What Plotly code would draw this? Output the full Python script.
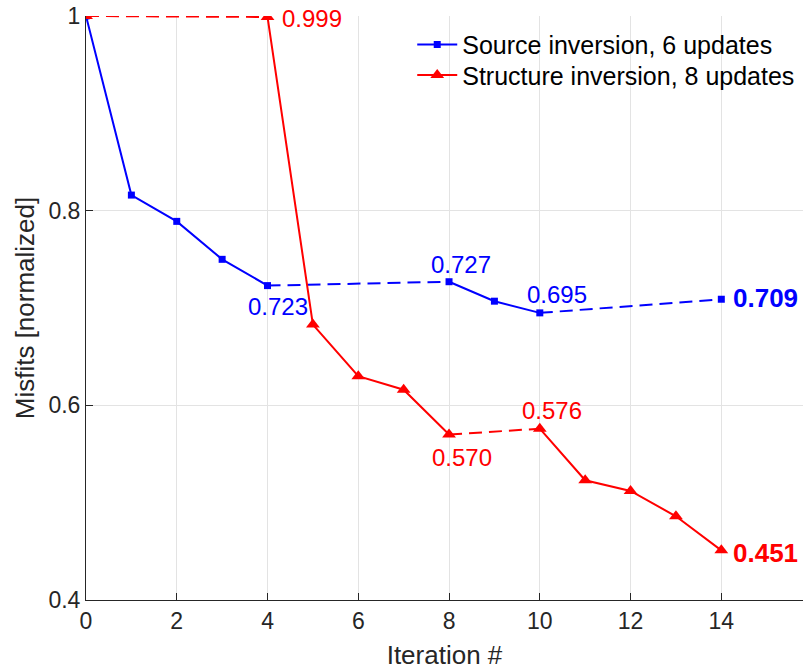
import plotly.graph_objects as go

# Normalized misfit per iteration
iterations = list(range(15))
source_misfit = [1.0, 0.816, 0.789, 0.750, 0.723, None, None, None,
                 0.727, 0.707, 0.695, None, None, None, 0.709]
structure_misfit = [1.0, None, None, None, 0.999, 0.683, 0.630, 0.616,
                    0.570, None, 0.576, 0.523, 0.512, 0.486, 0.451]

# Segments drawn dashed (between inversion stages)
source_dashed = [(4, 8), (10, 14)]
structure_dashed = [(0, 4), (8, 10)]

BLUE = "#0000ff"
RED = "#ff0000"
INK = "#262626"
FONT = "Liberation Sans, Arial, sans-serif"


def solid_series(values, dashed):
    """Break the line wherever a dashed gap connects two points."""
    xs, ys = [], []
    for i, v in zip(iterations, values):
        if v is None:
            continue
        if xs and any(a == xs[-1] and b == i for a, b in dashed):
            xs.append(None)
            ys.append(None)
        xs.append(i)
        ys.append(v)
    return xs, ys


def dashed_series(values, dashed):
    xs, ys = [], []
    for a, b in dashed:
        xs += [a, b, None]
        ys += [values[a], values[b], None]
    return xs, ys


fig = go.Figure()

for values, dashed, color, name, marker, legend in [
    (source_misfit, source_dashed, BLUE, "Source inversion, 6 updates",
     dict(symbol="square", size=7), "legend"),
    (structure_misfit, structure_dashed, RED, "Structure inversion, 8 updates",
     dict(symbol="triangle-up", size=12), "legend2"),
]:
    dx, dy = dashed_series(values, dashed)
    fig.add_trace(go.Scatter(
        x=dx, y=dy, mode="lines", showlegend=False, hoverinfo="skip",
        line=dict(color=color, width=2, dash="13px,7px"),
    ))
    sx, sy = solid_series(values, dashed)
    fig.add_trace(go.Scatter(
        x=sx, y=sy, mode="lines+markers", name=name, legend=legend,
        line=dict(color=color, width=2),
        marker=dict(color=color, **marker),
        connectgaps=False,
    ))

# Value labels: (iteration, series, color, xanchor, xshift, yshift, bold)
labels = [
    (4, structure_misfit, RED, "left", 13, -2, False),
    (4, source_misfit, BLUE, "center", 10, -21, False),
    (8, source_misfit, BLUE, "center", 12, 17.5, False),
    (10, source_misfit, BLUE, "center", 17, 18, False),
    (14, source_misfit, BLUE, "left", 11, 1.5, True),
    (8, structure_misfit, RED, "center", 13, -22.5, False),
    (10, structure_misfit, RED, "center", 12, 18, False),
    (14, structure_misfit, RED, "left", 11, -3, True),
]
for i, series, color, xa, xs, ys, bold in labels:
    v = series[i]
    txt = f"{v:.3f}"
    fig.add_annotation(
        x=i, y=v, text=f"<b>{txt}</b>" if bold else txt, showarrow=False,
        xanchor=xa, yanchor="middle", xshift=xs, yshift=ys, borderpad=0,
        font=dict(family=FONT, size=26 if bold else 24, color=color),
    )

legend_style = dict(xanchor="left", yanchor="top", bgcolor="rgba(255,255,255,0)",
                    font=dict(size=25, color="black"), itemwidth=40)

fig.update_layout(
    width=803, height=670,
    margin=dict(l=86, r=0, t=16, b=70),
    paper_bgcolor="white", plot_bgcolor="white",
    font=dict(family=FONT, color=INK),
    legend=dict(x=0.455, y=0.99, **legend_style),
    legend2=dict(x=0.455, y=0.938, **legend_style),
)
fig.update_xaxes(
    range=[0, 15.8], tickvals=list(range(0, 16, 2)),
    showgrid=True, gridcolor="#e3e3e3", gridwidth=1,
    showline=True, linecolor=INK, linewidth=1,
    ticks="inside", ticklen=7, tickcolor=INK,
    tickfont=dict(size=23, color=INK), zeroline=False,
    title=dict(text="Iteration #", font=dict(size=26, color=INK), standoff=13),
)
fig.update_yaxes(
    range=[0.4, 1.0], tickvals=[0.4, 0.6, 0.8, 1.0], ticktext=["0.4", "0.6", "0.8", "1"],
    showgrid=True, gridcolor="#e3e3e3", gridwidth=1,
    showline=True, linecolor=INK, linewidth=1,
    ticks="inside", ticklen=7, tickcolor=INK,
    tickfont=dict(size=23, color=INK), zeroline=False,
    title=dict(text="Misfits [normalized]", font=dict(size=26, color=INK), standoff=6),
)

fig.write_html("out.html")
